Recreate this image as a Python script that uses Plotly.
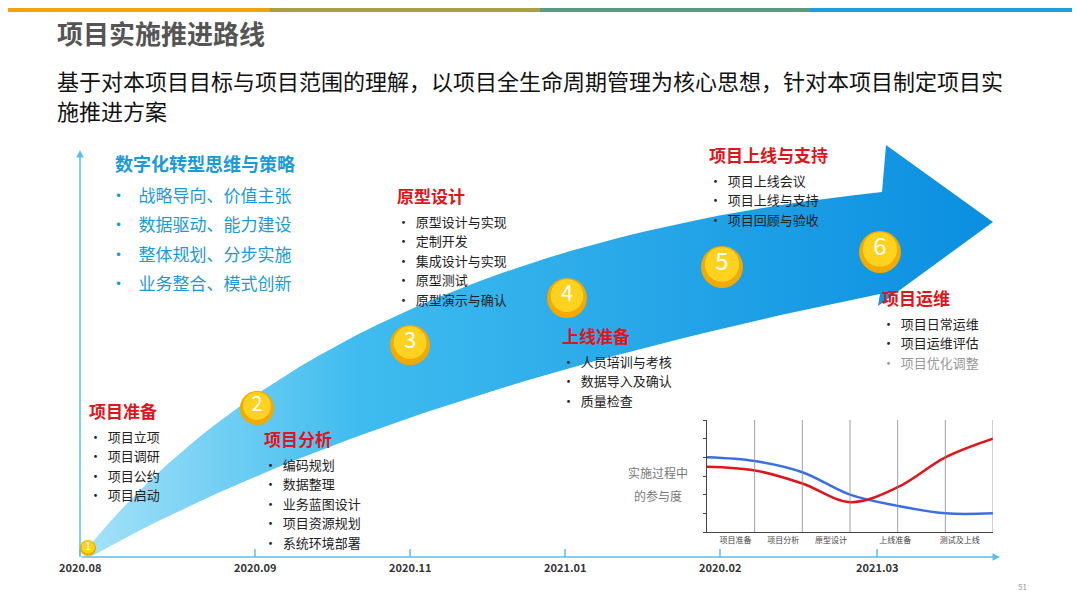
#project roadmap slide rebuilt in plotly
import numpy as np
import plotly.graph_objects as go

#timeline data
dates = ['2020.08', '2020.09', '2020.11', '2021.01', '2020.02', '2021.03']
date_x = [80, 255, 410, 565, 720, 877]

#stages along the arrow
stage_no = ['1', '2', '3', '4', '5', '6']
stage_titles = ['项目准备', '项目分析', '原型设计', '上线准备', '项目上线与支持', '项目运维']
stage_items = [
    ['项目立项', '项目调研', '项目公约', '项目启动'],
    ['编码规划', '数据整理', '业务蓝图设计', '项目资源规划', '系统环境部署'],
    ['原型设计与实现', '定制开发', '集成设计与实现', '原型测试', '原型演示与确认'],
    ['人员培训与考核', '数据导入及确认', '质量检查'],
    ['项目上线会议', '项目上线与支持', '项目回顾与验收'],
    ['项目日常运维', '项目运维评估', '项目优化调整'],
]

#strategy block
strategy_title = '数字化转型思维与策略'
strategy_items = ['战略导向、价值主张', '数据驱动、能力建设', '整体规划、分步实施', '业务整合、模式创新']

#inset chart: participation over phases
phases = ['项目准备', '项目分析', '原型设计', '上线准备', '测试及上线']
blue_vals = [4.0, 3.8, 3.2, 2.0, 1.4, 1.0, 1.0]
red_vals = [3.5, 3.3, 2.6, 1.6, 2.4, 4.0, 5.0]

#layout positions (page pixels) for the text blocks
circle_pos = [(88, 548, 16), (257, 408, 34), (410, 345, 40), (567, 298, 40), (722, 267, 42), (880, 252, 42)]
title_pos = [(87, 410), (262, 438), (395, 195), (560, 335), (707, 154), (880, 297)]
OFF = 8  # page body margin of the html page

fig = go.Figure()

#big arrow body, built from two quadratic curves plus the head
def qcurve(p0, p1, p2, n=40):
    t = np.linspace(0, 1, n)[:, None]
    return (1 - t) ** 2 * np.array(p0) + 2 * (1 - t) * t * np.array(p1) + t ** 2 * np.array(p2)

upper = qcurve((84, 552), (330, 250), (882, 192))
lower = qcurve((880, 294), (380, 395), (92, 556))
head = np.array([(886, 145), (993, 222), (878, 306)])
poly = np.vstack([upper, head, lower, upper[:1]])
fig.add_trace(go.Scatter(x=poly[:, 0], y=poly[:, 1], mode='lines', fill='toself',
                         line=dict(width=0, color='#1a9be0'),
                         fillgradient=dict(type='horizontal',
                                           colorscale=[[0, '#a6e2f8'], [0.3, '#3fbcef'], [1, '#0a8ee0']]),
                         hoverinfo='skip', showlegend=False))

#timeline axes
fig.add_annotation(x=1000, y=557, ax=80, ay=557, xref='x', yref='y', axref='x', ayref='y',
                   showarrow=True, arrowhead=2, arrowsize=1, arrowwidth=1.5, arrowcolor='#5bc0e8', text='')
fig.add_annotation(x=80, y=150, ax=80, ay=557, xref='x', yref='y', axref='x', ayref='y',
                   showarrow=True, arrowhead=2, arrowsize=1, arrowwidth=1.5, arrowcolor='#5bc0e8', text='')
for d, x in zip(dates, date_x):
    fig.add_shape(type='line', x0=x, x1=x, y0=549, y1=557, line=dict(color='#5bc0e8', width=1.5))
    fig.add_annotation(x=x, y=567, text='<b>%s</b>' % d, showarrow=False,
                       font=dict(size=11, color='#333333'))

#gold milestone circles (outer ring plus brighter core)
fig.add_trace(go.Scatter(x=[c[0] for c in circle_pos], y=[c[1] for c in circle_pos], mode='markers',
                         marker=dict(size=[c[2] for c in circle_pos], color='#f2a900', opacity=1,
                                     line=dict(width=0)),
                         hoverinfo='skip', showlegend=False))
fig.add_trace(go.Scatter(x=[c[0] for c in circle_pos], y=[c[1] - c[2] * 0.06 for c in circle_pos],
                         mode='markers+text',
                         marker=dict(size=[c[2] * 0.82 for c in circle_pos], color='#ffd21f', opacity=1,
                                     line=dict(width=0)),
                         text=stage_no, textfont=dict(size=[10, 20, 22, 22, 24, 24], color='white'),
                         hoverinfo='skip', showlegend=False))

#stage titles and bullet items
for i, (tx, ty) in enumerate(title_pos):
    fig.add_annotation(x=tx, y=ty, text='<b>%s</b>' % stage_titles[i], showarrow=False, xanchor='left',
                       font=dict(size=17, color='#e0151b'))
    for j, item in enumerate(stage_items[i]):
        col = '#999999' if (i == 5 and j == 2) else '#222222'
        fig.add_annotation(x=tx, y=ty + 26 + j * 19.5, text='•  ' + item, showarrow=False,
                           xanchor='left', font=dict(size=13, color=col))

#strategy block top left
fig.add_annotation(x=113, y=163, text='<b>%s</b>' % strategy_title, showarrow=False, xanchor='left',
                   font=dict(size=18, color='#1a9ad6'))
for j, item in enumerate(strategy_items):
    fig.add_annotation(x=108, y=194 + j * 29.5, text='•   ' + item, showarrow=False, xanchor='left',
                       font=dict(size=17, color='#1a9ad6'))

#header texts
fig.add_annotation(x=55, y=32, text='<b>项目实施推进路线</b>', showarrow=False, xanchor='left',
                   font=dict(size=26, color='#555555'))
fig.add_annotation(x=55, y=80, text='基于对本项目目标与项目范围的理解，以项目全生命周期管理为核心思想，针对本项目制定项目实',
                   showarrow=False, xanchor='left', font=dict(size=22, color='#111111'))
fig.add_annotation(x=55, y=110, text='施推进方案', showarrow=False, xanchor='left',
                   font=dict(size=22, color='#111111'))
fig.add_annotation(x=1022, y=586, text='51', showarrow=False, font=dict(size=8, color='#999999'))

#coloured strip at the very top
for k, c in enumerate(['#f0a30a', '#a8a040', '#5a9a80', '#1aa0e0']):
    fig.add_shape(type='rect', x0=k * 270, x1=(k + 1) * 270, y0=OFF, y1=OFF + 4, line=dict(width=0), fillcolor=c)

#inset participation chart
xs = list(range(len(blue_vals)))
fig.add_trace(go.Scatter(x=xs, y=blue_vals, mode='lines', line=dict(color='#3b6fe0', width=2.5, shape='spline'),
                         xaxis='x2', yaxis='y2', showlegend=False, hoverinfo='skip'))
fig.add_trace(go.Scatter(x=xs, y=red_vals, mode='lines', line=dict(color='#e0151b', width=2.5, shape='spline'),
                         xaxis='x2', yaxis='y2', showlegend=False, hoverinfo='skip'))
fig.add_annotation(x=658, y=472, text='实施过程中', showarrow=False, font=dict(size=12, color='#777777'))
fig.add_annotation(x=658, y=495, text='的参与度', showarrow=False, font=dict(size=12, color='#777777'))

fig.update_layout(
    width=1080, height=608, margin=dict(l=0, r=0, t=0, b=0),
    plot_bgcolor='white', paper_bgcolor='white',
    font=dict(family='Noto Sans CJK SC'),
    xaxis=dict(range=[OFF, 1080 + OFF], visible=False, domain=[0, 1]),
    yaxis=dict(range=[608 + OFF, OFF], visible=False, domain=[0, 1]),
    xaxis2=dict(range=[0, 6], domain=[(707 - OFF) / 1080, (993 - OFF) / 1080], anchor='y2', showgrid=False,
                tickvals=[0.6, 1.6, 2.6, 3.95, 5.3], ticktext=phases, ticks='',
                tickfont=dict(size=8, color='#444444'), showline=True, linecolor='#444444', zeroline=False),
    yaxis2=dict(range=[0, 6], domain=[1 - (532 - OFF) / 608, 1 - (420 - OFF) / 608], anchor='x2',
                showgrid=False, showticklabels=False,
                ticks='outside', ticklen=3, dtick=1, showline=True, linecolor='#444444', zeroline=False),
)
#vertical phase dividers of the inset
for k in range(1, 7):
    fig.add_shape(type='line', xref='x2', yref='y2', x0=k, x1=k, y0=0, y1=6, line=dict(color='#888888', width=0.8))

fig.write_html('out.html')
